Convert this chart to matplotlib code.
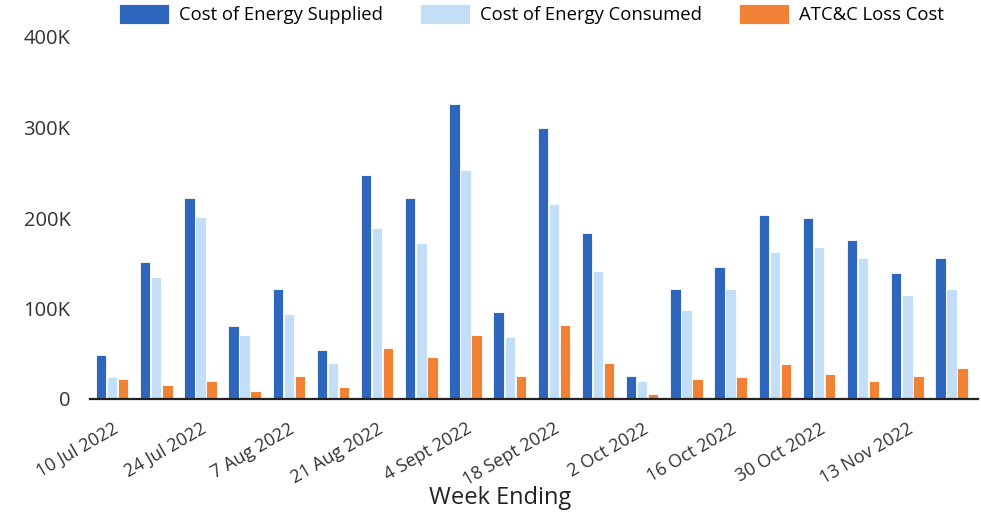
import numpy as np
import matplotlib
matplotlib.use("Agg")
import matplotlib.pyplot as plt
from matplotlib.ticker import FuncFormatter

weeks = ["10 Jul 2022", "17 Jul 2022", "24 Jul 2022", "31 Jul 2022", "7 Aug 2022",
         "14 Aug 2022", "21 Aug 2022", "28 Aug 2022", "4 Sept 2022", "11 Sept 2022",
         "18 Sept 2022", "25 Sept 2022", "2 Oct 2022", "9 Oct 2022", "16 Oct 2022",
         "23 Oct 2022", "30 Oct 2022", "6 Nov 2022", "13 Nov 2022", "20 Nov 2022"]

supplied = [48.6, 151.7, 222, 81, 121, 54.5, 247, 222, 326, 96,
            299, 183, 25.8, 121, 145.5, 203, 200, 176, 139.6, 156]
consumed = [24, 135, 201, 71, 94, 40, 189, 172, 253, 69,
            216, 141, 19.5, 98, 121, 162, 168, 156, 114.6, 121]
loss = [21.7, 15.5, 19.5, 9.2, 25.8, 13.3, 56.7, 46.4, 71, 25.8,
        81.4, 40, 5.5, 21.7, 24, 38.3, 28, 19.5, 25.8, 34]

plt.rcParams["font.family"] = ["Open Sans", "DejaVu Sans"]

fig = plt.figure(figsize=(9.81, 5.12), dpi=100)
ax = fig.add_axes([90 / 981, 1 - 399 / 512, 888 / 981, 362 / 512])

x = np.arange(len(weeks))
w = 0.235
off = 0.25
series = [
    (supplied, "Cost of Energy Supplied", "#2f66bd", -off),
    (consumed, "Cost of Energy Consumed", "#c3dff7", 0),
    (loss, "ATC&C Loss Cost", "#f08135", off),
]
for vals, label, color, dx in series:
    ax.bar(x + dx, np.array(vals) * 1000, width=w, color=color, label=label,
           edgecolor="white", linewidth=0.6)

ax.set_xlim(-0.5, 19.6)
ax.set_ylim(0, 400000)
ax.set_yticks([0, 100000, 200000, 300000, 400000])
ax.yaxis.set_major_formatter(FuncFormatter(lambda v, p: "0" if v == 0 else f"{int(v / 1000)}K"))
ax.tick_params(axis="y", length=0, pad=14, labelsize=14.5, labelcolor="#333333")

ax.set_xticks(x[::2])
ax.set_xticklabels(weeks[::2], rotation=30, ha="right", rotation_mode="anchor",
                   fontsize=13, color="#333333")
ax.tick_params(axis="x", length=0, pad=15)

for s in ["top", "right", "left"]:
    ax.spines[s].set_visible(False)
ax.spines["bottom"].set_linewidth(1.6)
ax.spines["bottom"].set_color("#222222")

ax.set_xlabel("Week Ending", fontsize=17, color="#222222")
ax.xaxis.set_label_coords(0.462, -0.24)

fig.legend(loc="upper center", bbox_to_anchor=(0.542, 1.025), ncol=3, frameon=False,
           fontsize=13.3, handlelength=2.7, handleheight=1.3, columnspacing=2.0,
           handletextpad=0.55)

fig.savefig("out.png", dpi=100)
